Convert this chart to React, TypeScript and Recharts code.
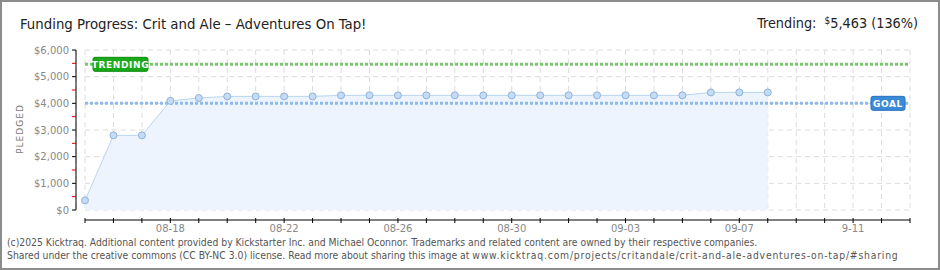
import { AreaChart, Area, XAxis, YAxis, CartesianGrid, ReferenceLine } from "recharts";

// days shown on the x axis (one tick per day)
const dates = [
  "08-15", "08-16", "08-17", "08-18", "08-19", "08-20", "08-21", "08-22", "08-23", "08-24",
  "08-25", "08-26", "08-27", "08-28", "08-29", "08-30", "08-31", "09-01", "09-02", "09-03",
  "09-04", "09-05", "09-06", "09-07", "09-08", "09-09", "09-10", "9-11", "09-12", "09-13",
];

// pledged total at each day (campaign data stops at 09-08)
const pledged = [
  360, 2800, 2800, 4090, 4200, 4260, 4260, 4260, 4260, 4300,
  4300, 4300, 4300, 4300, 4300, 4300, 4300, 4300, 4300, 4300,
  4300, 4300, 4410, 4410, 4410,
];

const goal = 4000;
const trending = 5463;
const trendingPct = 136;

const yTicks = [0, 500, 1000, 1500, 2000, 2500, 3000, 3500, 4000, 4500, 5000, 5500, 6000];
const yMajor = [0, 1000, 2000, 3000, 4000, 5000, 6000];

const data = dates.map((date, i) => ({ date, pledged: i < pledged.length ? pledged[i] : null }));

const pixelFont = "'DejaVu Sans', sans-serif";
const titleFont = "'DejaVu Sans Condensed', sans-serif";

function XTick({ x, y, payload, index }: any) {
  return (
    <g>
      <line x1={x} x2={x} y1={y - 2} y2={y + 3} stroke="#000" />
      {index % 4 === 3 && (
        <text x={x} y={y + 12} textAnchor="middle" fontSize={10} fill="#888" fontFamily={pixelFont}>
          {payload.value}
        </text>
      )}
    </g>
  );
}

function YTick({ x, y, payload }: any) {
  const major = payload.value % 1000 === 0;
  return (
    <g>
      <line x1={x - 4} x2={x} y1={y} y2={y} stroke={major ? "#000" : "#e00000"} />
      {major && (
        <text x={x - 7} y={y + 3.5} textAnchor="end" fontSize={10} fill="#888" fontFamily={pixelFont}>
          {"$" + payload.value.toLocaleString("en-US")}
        </text>
      )}
    </g>
  );
}

function Dot({ cx, cy, value }: any) {
  if (value == null || cy == null) return null;
  return <circle cx={cx} cy={cy} r={3.5} fill="#c4dcf6" stroke="#8fb1d8" strokeWidth={1} />;
}

function Tag({ viewBox, text, fill, border, side, w }: any) {
  if (!viewBox) return null;
  const x = side === "left" ? viewBox.x + 8 : viewBox.x + viewBox.width - w - 5;
  const y = viewBox.y;
  return (
    <g>
      <rect x={x} y={y - 7} width={w} height={14} rx={2} fill={fill} stroke={border} />
      <text
        x={x + w / 2}
        y={y + 3.5}
        textAnchor="middle"
        fontSize={9}
        fontWeight="bold"
        letterSpacing={0.6}
        fill="#fff"
        fontFamily={pixelFont}
      >
        {text}
      </text>
    </g>
  );
}

export default function App() {
  return (
    <div style={{ position: "absolute", left: 0, top: 0, width: 940, height: 270, background: "#fff", overflow: "hidden" }}>
      <div
        style={{
          position: "absolute",
          left: 20,
          top: 16,
          fontFamily: titleFont,
          fontSize: 14.8,
          lineHeight: "16px",
          color: "#222",
          whiteSpace: "nowrap",
        }}
      >
        Funding Progress: Crit and Ale – Adventures On Tap!
      </div>
      <div
        style={{
          position: "absolute",
          right: 22,
          top: 13,
          fontFamily: titleFont,
          fontSize: 14.3,
          lineHeight: "16px",
          color: "#222",
          whiteSpace: "nowrap",
        }}
      >
        Trending:&nbsp; <span style={{ fontSize: 10, verticalAlign: 4 }}>$</span>
        {trending.toLocaleString("en-US")} ({trendingPct}%)
      </div>

      <AreaChart width={940} height={250} data={data} margin={{ top: 50, right: 30, bottom: 0, left: 0 }}>
        <CartesianGrid
          x={85}
          y={50}
          width={825}
          height={160}
          stroke="#dcdcdc"
          strokeDasharray="5 4"
          horizontalValues={yMajor}
        />
        <XAxis
          dataKey="date"
          interval={0}
          padding={{ left: 9, right: 0 }}
          height={30}
          tickSize={0}
          tickMargin={0}
          tickLine={false}
          tick={<XTick />}
          axisLine={{ stroke: "#000", strokeDasharray: "0 9 825 40" }}
        />
        <YAxis
          width={76}
          domain={[0, 6000]}
          ticks={yTicks}
          interval={0}
          padding={{ top: 0, bottom: 10 }}
          tickSize={0}
          tickMargin={0}
          tickLine={false}
          tick={<YTick />}
          axisLine={{ stroke: "#000", strokeDasharray: "160 20" }}
          label={({ viewBox }: any) => (
            <text
              transform={`translate(${viewBox.x + 23}, ${viewBox.y + viewBox.height / 2 - 6}) rotate(-90)`}
              textAnchor="middle"
              fontSize={9}
              letterSpacing={1}
              fill="#777"
              fontFamily={pixelFont}
            >
              PLEDGED
            </text>
          )}
        />
        <Area
          type="linear"
          dataKey="pledged"
          stroke="#b9d5f2"
          strokeWidth={1}
          fill="#edf4fd"
          fillOpacity={1}
          dot={<Dot />}
          activeDot={false}
          isAnimationActive={false}
        />
        <ReferenceLine
          segment={[{ x: dates[0], y: trending }, { x: dates[dates.length - 1], y: trending }]}
          stroke="#78c96c"
          strokeWidth={3}
          strokeDasharray="3 2"
          label={<Tag text="TRENDING" fill="#18aa18" border="#0f8a0f" side="left" w={55} />}
        />
        <ReferenceLine
          segment={[{ x: dates[0], y: goal }, { x: dates[dates.length - 1], y: goal }]}
          stroke="#8dbaea"
          strokeWidth={3}
          strokeDasharray="3 2"
          label={<Tag text="GOAL" fill="#3a8ad8" border="#2a72bc" side="right" w={34} />}
        />
      </AreaChart>

      <div
        style={{
          position: "absolute",
          left: 7,
          top: 236,
          fontFamily: "'DejaVu Sans Condensed', sans-serif",
          fontSize: 10.3,
          lineHeight: "13px",
          color: "#555",
          whiteSpace: "nowrap",
        }}
      >
        <div>
          (c)2025 Kicktraq. Additional content provided by Kickstarter Inc. and Michael Oconnor. Trademarks and related
          content are owned by their respective companies.
        </div>
        <div>
          Shared under the creative commons (CC BY-NC 3.0) license. Read more about sharing this image at{" "}
          <span style={{ letterSpacing: 0.8 }}>www.kicktraq.com/projects/critandale/crit-and-ale-adventures-on-tap/#sharing</span>
        </div>
      </div>

      <div
        style={{
          position: "absolute",
          left: 0,
          top: 0,
          width: 940,
          height: 270,
          boxSizing: "border-box",
          border: "2px solid #8c8c8c",
          pointerEvents: "none",
        }}
      />
    </div>
  );
}
